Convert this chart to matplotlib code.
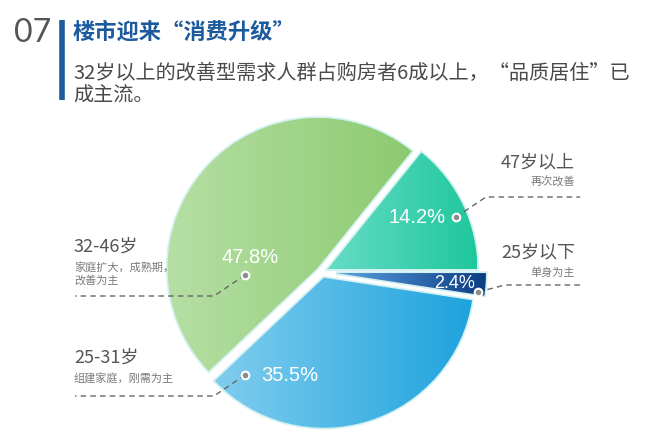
import numpy as np
import matplotlib
matplotlib.use("Agg")
import matplotlib.pyplot as plt

plt.rcParams['font.family'] = ['Noto Sans CJK SC', 'DejaVu Sans']

# Données
numero = "07"
titre = "楼市迎来“消费升级”"
sous_titre = ["32岁以上的改善型需求人群占购房者6成以上，“品质居住”已", "成主流。"]
groupes = ["47岁以上", "32-46岁", "25-31岁", "25岁以下"]
notes = ["再次改善", "家庭扩大，成熟期，\n改善为主", "组建家庭，刚需为主", "单身为主"]
parts = [14.2, 47.8, 35.5, 2.4]

# Style (couleurs gauche -> droite pour le dégradé)
degrades = [("#66dcc6", "#1fc79c"), ("#b6dfa4", "#8cca70"),
            ("#80cdee", "#1ea3de"), ("#5aa2e2", "#0c3c82")]
eclate = [6, 6, 6, 14]  # en pixels, car radius=150
# position du pourcentage, du point, et de la ligne pointillée (pixels)
pos_pct = [(417, 217), (250, 257), (290, 375), (455, 283)]
taille_pct = [14.5, 14.5, 14.5, 13]
pos_point = [(456, 217), (245, 275), (245, 375), (478, 292)]
coude = [(486, 197), (214, 296), (214, 396), (505, 285)]
fin_ligne = [580, 75, 75, 580]
pos_groupe = [(575, 162), (74, 247), (74, 358), (575, 252)]

W, H = 659, 444
fig = plt.figure(figsize=(W / 100, H / 100), dpi=100)
ax = fig.add_axes([0, 0, 1, 1])

wedges, _ = ax.pie(parts, radius=150, center=(322, 272), startangle=0,
                   counterclock=False, explode=eclate,
                   wedgeprops=dict(edgecolor="#d4f1f1", linewidth=2.5))
ax.set_aspect("equal")
ax.axis("off")

grad = np.linspace(0, 1, 256).reshape(1, -1)
for w, (c1, c2) in zip(wedges, degrades):
    v = w.get_path().vertices
    x0, x1 = v[:, 0].min(), v[:, 0].max()
    y0, y1 = v[:, 1].min(), v[:, 1].max()
    cmap = matplotlib.colors.LinearSegmentedColormap.from_list("g", [c1, c2])
    im = ax.imshow(grad, cmap=cmap, extent=(x0, x1, y1, y0), aspect="auto",
                   zorder=2, interpolation="bilinear")
    im.set_clip_path(w)
ax.set_xlim(0, W)
ax.set_ylim(H, 0)

# Pourcentages et annotations
for i in range(len(parts)):
    ax.text(pos_pct[i][0], pos_pct[i][1], f"{parts[i]}%", color="white",
            fontsize=taille_pct[i], family=["Liberation Sans"], ha="center",
            va="center", zorder=5)
    px, py = pos_point[i]
    cx, cy = coude[i]
    ax.plot([px, cx, fin_ligne[i]], [py, cy, cy], color="#666666", lw=1,
            ls=(0, (4, 3)), zorder=4)
    ax.plot(px, py, "o", ms=5.5, mfc="#8c8c8c", mec="white", mew=1.5, zorder=6)
    gx, gy = pos_groupe[i]
    ha = "right" if gx > 322 else "left"
    ax.text(gx, gy, groupes[i], color="#555555", fontsize=13, ha=ha, va="center")
    ax.text(gx, gy + 15, notes[i], color="#7a7a7a", fontsize=8, ha=ha, va="top",
            linespacing=1.25)

# En-tête
ax.text(14, 33, numero, color="#555555", fontsize=23, family=["Lato", "DejaVu Sans"],
        ha="left", va="center")
ax.plot([62, 62], [20, 100], color="#1b5c9c", lw=4, solid_capstyle="butt")
ax.text(73, 32, titre, color="#1c5a9e", fontsize=16, fontweight="bold",
        ha="left", va="center")
for k, ligne in enumerate(sous_titre):
    ax.text(73, 73 + 23 * k, ligne, color="#4a4a4a", fontsize=14.5,
            ha="left", va="center")

fig.savefig("out.png", dpi=100)
